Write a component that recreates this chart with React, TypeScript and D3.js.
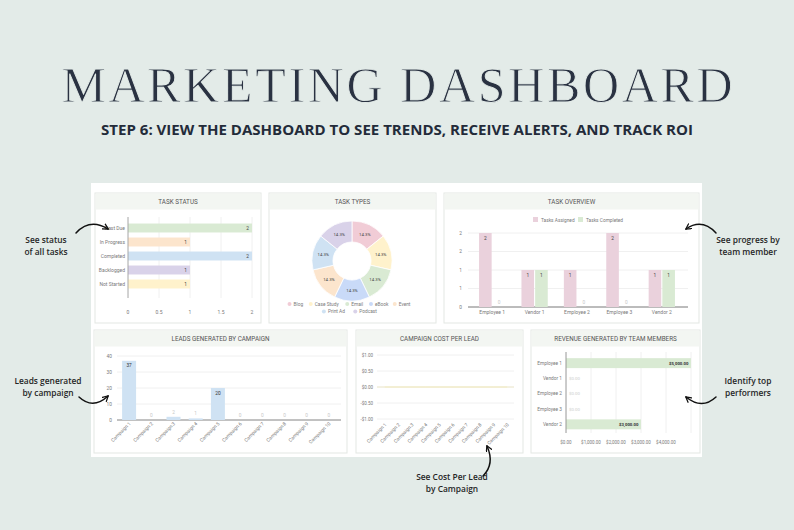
import React from "react";
import * as d3 from "d3";

const W = 794;
const H = 530;

// ---------- DATA ----------
const statusCategories = ["Past Due", "In Progress", "Completed", "Backlogged", "Not Started"];
const statusValues = [2, 1, 2, 1, 1];
const statusColors = ["#d9ead3", "#fce5cd", "#cfe2f3", "#d9d2e9", "#fff2cc"];
const statusTicks = [0, 0.5, 1, 1.5, 2];

const typeLabels = ["Blog", "Case Study", "Email", "eBook", "Event", "Print Ad", "Podcast"];
const typeValues = [1, 1, 1, 1, 1, 1, 1];
const typeColors = ["#f1ccd6", "#fff2cc", "#d9ead3", "#c9daf8", "#fce5cd", "#cfe2f3", "#d9d2e9"];

const members = ["Employee 1", "Vendor 1", "Employee 2", "Employee 3", "Vendor 2"];
const tasksAssigned = [2, 1, 1, 2, 1];
const tasksCompleted = [0, 1, 0, 0, 1];
const overviewTicks = [0, 0.5, 1, 1.5, 2];

const campaigns = [
  "Campaign 1", "Campaign 2", "Campaign 3", "Campaign 4", "Campaign 5",
  "Campaign 6", "Campaign 7", "Campaign 8", "Campaign 9", "Campaign 10",
];
const leads = [37, 0, 2, 1, 20, 0, 0, 0, 0, 0];
const leadTicks = [0, 10, 20, 30, 40];

const costPerLead = [0, 0, 0, 0, 0, 0, 0, 0, 0, 0];
const costTicks = [-1, -0.5, 0, 0.5, 1];

const revenue = [5000, 0, 0, 0, 3000];
const revenueTicks = [0, 1000, 2000, 3000, 4000, 5000];

// ---------- helpers ----------
const loc = d3.formatLocale({ decimal: ".", thousands: ",", grouping: [3], currency: ["$", ""], minus: "-" });
const fmtMoney = loc.format("$,.2f");
const fmtPct = d3.format(".1%");

const CHART_FONT = "Roboto, 'Noto Sans', sans-serif";
const ANN_FONT = "'Open Sans', 'Noto Sans', sans-serif";
const AXIS_TXT = "#7a7a7a";
const GRID = "#ececec";

function Panel({ x, y, w, h, title }: { x: number; y: number; w: number; h: number; title: string }) {
  return (
    <g>
      <rect x={x} y={y} width={w} height={h} fill="#ffffff" stroke="#e3e7e3" strokeWidth={1} />
      <rect x={x + 0.5} y={y + 0.5} width={w - 1} height={16} fill="#f3f6f2" />
      <text x={x + w / 2} y={y + 10.5} textAnchor="middle" fontSize={6.3} fill="#555" fontFamily={CHART_FONT}>
        {title}
      </text>
    </g>
  );
}

function TaskStatus() {
  const x = d3.scaleLinear().domain([0, 2]).range([128, 252]);
  const y = d3.scaleBand().domain(statusCategories).range([221, 291]).paddingInner(0.36).paddingOuter(0.18);
  return (
    <g fontFamily={CHART_FONT}>
      {statusTicks.map((t) => (
        <g key={t}>
          <line x1={x(t)} x2={x(t)} y1={217} y2={298} stroke={GRID} strokeWidth={0.8} />
          <text x={x(t)} y={314} textAnchor="middle" fontSize={5} fill={AXIS_TXT}>
            {t}
          </text>
        </g>
      ))}
      {statusCategories.map((c, i) => (
        <g key={c}>
          <rect x={x(0)} y={y(c)!} width={x(statusValues[i]) - x(0)} height={y.bandwidth()} fill={statusColors[i]} />
          <text x={x(statusValues[i]) - 3} y={y(c)! + y.bandwidth() / 2 + 1.8} textAnchor="end" fontSize={4.8} fill="#444">
            {statusValues[i]}
          </text>
          <text x={x(0) - 3} y={y(c)! + y.bandwidth() / 2 + 1.8} textAnchor="end" fontSize={5} fill={AXIS_TXT}>
            {c}
          </text>
        </g>
      ))}
      <line x1={x(0)} x2={x(0)} y1={217} y2={298} stroke="#9a9a9a" strokeWidth={0.8} />
    </g>
  );
}

function TaskTypes() {
  const cx = 352;
  const cy = 261;
  const pie = d3.pie<number>().sort(null).value((d) => d)(typeValues);
  const arc = d3.arc<d3.PieArcDatum<number>>().innerRadius(19).outerRadius(40);
  const total = d3.sum(typeValues);
  const rows = [typeLabels.slice(0, 5), typeLabels.slice(5)];
  const itemW = (s: string) => s.length * 2.55 + 11;
  return (
    <g fontFamily={CHART_FONT}>
      <g transform={`translate(${cx},${cy})`}>
        {pie.map((p, i) => (
          <g key={i}>
            <path d={arc(p)!} fill={typeColors[i]} stroke="#fff" strokeWidth={0.8} />
            <text
              x={arc.centroid(p)[0]}
              y={arc.centroid(p)[1] + 1.5}
              textAnchor="middle"
              fontSize={4.3}
              fill="#444"
            >
              {fmtPct(typeValues[i] / total)}
            </text>
          </g>
        ))}
      </g>
      {rows.map((row, ri) => {
        const widths = row.map(itemW);
        const tot = d3.sum(widths);
        let cur = cx - tot / 2;
        return row.map((lab) => {
          const idx = typeLabels.indexOf(lab);
          const x0 = cur;
          cur += itemW(lab);
          const yy = 304 + ri * 7.5;
          return (
            <g key={lab}>
              <circle cx={x0 + 2} cy={yy} r={2} fill={typeColors[idx]} />
              <text x={x0 + 6} y={yy + 1.7} fontSize={4.8} fill={AXIS_TXT}>
                {lab}
              </text>
            </g>
          );
        });
      })}
    </g>
  );
}

function TaskOverview() {
  const x = d3.scaleBand().domain(members).range([471, 683]).paddingInner(0.38).paddingOuter(0.19);
  const sub = d3.scaleBand().domain(["a", "c"]).range([0, x.bandwidth()]).paddingInner(0.08);
  const y = d3.scaleLinear().domain([0, 2]).range([307, 233]);
  return (
    <g fontFamily={CHART_FONT}>
      {overviewTicks.map((t) => (
        <g key={t}>
          <line x1={468} x2={688} y1={y(t)} y2={y(t)} stroke={t === 0 ? "#555" : GRID} strokeWidth={0.8} />
          <text x={462} y={y(t) + 1.7} textAnchor="end" fontSize={4.8} fill={AXIS_TXT}>
            {Math.round(t)}
          </text>
        </g>
      ))}
      {members.map((m, i) => {
        const gx = x(m)!;
        const items: [string, number, string][] = [
          ["a", tasksAssigned[i], "#ead1dc"],
          ["c", tasksCompleted[i], "#d9ead3"],
        ];
        return (
          <g key={m}>
            {items.map(([k, v, col]) => {
              const bx = gx + sub(k)!;
              const bw = sub.bandwidth();
              return (
                <g key={k}>
                  <rect x={bx} y={y(v)} width={bw} height={y(0) - y(v)} fill={col} />
                  <text
                    x={bx + bw / 2}
                    y={v > 0 ? y(v) + 7 : y(0) - 3}
                    textAnchor="middle"
                    fontSize={4.8}
                    fill={v > 0 ? "#444" : "#c8c8c8"}
                  >
                    {v}
                  </text>
                </g>
              );
            })}
            <text x={gx + x.bandwidth() / 2} y={314} textAnchor="middle" fontSize={5} fill={AXIS_TXT}>
              {m}
            </text>
          </g>
        );
      })}
      <rect x={533} y={217} width={5} height={5} fill="#ead1dc" />
      <text x={541} y={221.6} fontSize={4.8} fill={AXIS_TXT}>
        Tasks Assigned
      </text>
      <rect x={578} y={217} width={5} height={5} fill="#d9ead3" />
      <text x={586} y={221.6} fontSize={4.8} fill={AXIS_TXT}>
        Tasks Completed
      </text>
    </g>
  );
}

function Leads() {
  const x = d3.scaleBand().domain(campaigns).range([118, 340]).paddingInner(0.37).paddingOuter(0.185);
  const y = d3.scaleLinear().domain([0, 40]).range([420, 356]);
  return (
    <g fontFamily={CHART_FONT}>
      {leadTicks.map((t) => (
        <g key={t}>
          <line x1={117} x2={341} y1={y(t)} y2={y(t)} stroke={t === 0 ? "#666" : GRID} strokeWidth={0.8} />
          <text x={112} y={y(t) + 1.7} textAnchor="end" fontSize={4.8} fill={AXIS_TXT}>
            {t}
          </text>
        </g>
      ))}
      {campaigns.map((c, i) => {
        const bx = x(c)!;
        const bw = x.bandwidth();
        const v = leads[i];
        const big = y(0) - y(v) > 10;
        return (
          <g key={c}>
            <rect x={bx} y={y(v)} width={bw} height={y(0) - y(v)} fill="#cfe2f3" />
            <text
              x={bx + bw / 2}
              y={big ? y(v) + 6.5 : y(v) - 3}
              textAnchor="middle"
              fontSize={4.8}
              fill={big ? "#333" : "#c8c8c8"}
            >
              {v}
            </text>
            <text
              transform={`translate(${bx + bw / 2 + 2},${424}) rotate(-45)`}
              textAnchor="end"
              fontSize={4.8}
              fill={AXIS_TXT}
            >
              {c}
            </text>
          </g>
        );
      })}
    </g>
  );
}

function CostPerLead() {
  const x = d3.scaleBand().domain(campaigns).range([378, 514]);
  const y = d3.scaleLinear().domain([-1, 1]).range([419, 355]);
  const line = d3
    .line<number>()
    .x((_, i) => x(campaigns[i])! + x.bandwidth() / 2)
    .y((d) => y(d));
  return (
    <g fontFamily={CHART_FONT}>
      {costTicks.map((t) => (
        <g key={t}>
          <line x1={377} x2={514} y1={y(t)} y2={y(t)} stroke={GRID} strokeWidth={0.8} />
          <text x={373} y={y(t) + 1.7} textAnchor="end" fontSize={4.5} fill={AXIS_TXT}>
            {fmtMoney(t)}
          </text>
        </g>
      ))}
      <line x1={377} x2={514} y1={y(0)} y2={y(0)} stroke="#eee9c8" strokeWidth={0.9} />
      <path d={line(costPerLead)!} fill="none" stroke="#f3ecc4" strokeWidth={1} />
      {campaigns.map((c) => (
        <text
          key={c}
          transform={`translate(${x(c)! + x.bandwidth() / 2 + 2},${425}) rotate(-45)`}
          textAnchor="end"
          fontSize={4.8}
          fill={AXIS_TXT}
        >
          {c}
        </text>
      ))}
    </g>
  );
}

function Revenue() {
  const x = d3.scaleLinear().domain([0, 5000]).range([566, 691]);
  const y = d3.scaleBand().domain(members).range([355.5, 432]).paddingInner(0.35).paddingOuter(0.175);
  return (
    <g fontFamily={CHART_FONT}>
      {revenueTicks.map((t) => (
        <g key={t}>
          <line x1={x(t)} x2={x(t)} y1={352} y2={433} stroke={GRID} strokeWidth={0.8} />
          {t < 5000 && (
            <text x={x(t)} y={444} textAnchor="middle" fontSize={4.5} fill={AXIS_TXT}>
              {fmtMoney(t)}
            </text>
          )}
        </g>
      ))}
      {members.map((m, i) => {
        const v = revenue[i];
        const yy = y(m)!;
        const bh = y.bandwidth();
        return (
          <g key={m}>
            <rect x={x(0)} y={yy} width={x(v) - x(0)} height={bh} fill="#d9ead3" />
            <text
              x={v > 0 ? x(v) - 2.5 : x(0) + 3}
              y={yy + bh / 2 + 1.6}
              textAnchor={v > 0 ? "end" : "start"}
              fontSize={4.3}
              fill={v > 0 ? "#333" : "#cccccc"}
              fontWeight={v > 0 ? 700 : 400}
            >
              {fmtMoney(v)}
            </text>
            <text x={x(0) - 4} y={yy + bh / 2 + 1.7} textAnchor="end" fontSize={4.8} fill={AXIS_TXT}>
              {m}
            </text>
          </g>
        );
      })}
      <line x1={x(0)} x2={x(0)} y1={352} y2={433} stroke="#888" strokeWidth={0.8} />
    </g>
  );
}

function Annotation({ lines, x, y }: { lines: string[]; x: number; y: number }) {
  return (
    <g>
      {lines.map((l, i) => (
        <text
          key={i}
          x={x}
          y={y + i * 11.5}
          textAnchor="middle"
          fontSize={8.4}
          fontWeight={600}
          fill="#262626"
          fontFamily={ANN_FONT}
        >
          {l}
        </text>
      ))}
    </g>
  );
}

export default function App() {
  return (
    <div style={{ position: "absolute", left: 0, top: 0, width: W, height: H }}>
      <svg width={W} height={H} viewBox={`0 0 ${W} ${H}`} style={{ display: "block" }}>
        <defs>
          <marker
            id="ah"
            viewBox="0 0 10 10"
            refX={8}
            refY={5}
            markerWidth={7}
            markerHeight={7}
            markerUnits="userSpaceOnUse"
            orient="auto"
          >
            <path d="M1,1 L8.5,5 L1,9" fill="none" stroke="#111" strokeWidth={1.8} strokeLinecap="round" strokeLinejoin="round" />
          </marker>
        </defs>
        <rect x={0} y={0} width={W} height={H} fill="#e3ebe8" />

        <text
          x={397}
          y={102}
          textAnchor="middle"
          fontSize={50}
          fontFamily="'Liberation Serif', 'DejaVu Serif', serif"
          fill="#2a3242"
          stroke="#e3ebe8"
          strokeWidth={0.9}
          textLength={671}
          lengthAdjust="spacing"
        >
          MARKETING DASHBOARD
        </text>
        <text
          x={397}
          y={135}
          textAnchor="middle"
          fontSize={13.6}
          fontWeight={700}
          fontFamily={ANN_FONT}
          fill="#232b3a"
          textLength={592}
          lengthAdjust="spacingAndGlyphs"
        >
          STEP 6: VIEW THE DASHBOARD TO SEE TRENDS, RECEIVE ALERTS, AND TRACK ROI
        </text>

        <rect x={91} y={183} width={611} height={274} fill="#ffffff" />

        <Panel x={95} y={193} w={166} h={130} title="TASK STATUS" />
        <Panel x={269} y={193} w={167} h={130} title="TASK TYPES" />
        <Panel x={444} y={193} w={255} h={130} title="TASK OVERVIEW" />
        <Panel x={94} y={330} w={253} h={123} title="LEADS GENERATED BY CAMPAIGN" />
        <Panel x={356} y={330} w={167} h={123} title="CAMPAIGN COST PER LEAD" />
        <Panel x={531} y={330} w={169} h={123} title="REVENUE GENERATED BY TEAM MEMBERS" />

        <TaskStatus />
        <TaskTypes />
        <TaskOverview />
        <Leads />
        <CostPerLead />
        <Revenue />

        <Annotation lines={["See status", "of all tasks"]} x={46} y={243} />
        <Annotation lines={["Leads generated", "by campaign"]} x={48} y={384} />
        <Annotation lines={["See progress by", "team member"]} x={748} y={243} />
        <Annotation lines={["Identify top", "performers"]} x={748} y={384} />
        <Annotation lines={["See Cost Per Lead", "by Campaign"]} x={452} y={480} />

        <g fill="none" stroke="#111" strokeWidth={1.5} strokeLinecap="round">
          <path d="M76,233 Q90,218 108,229" markerEnd="url(#ah)" />
          <path d="M79,397 Q93,410 108,396" markerEnd="url(#ah)" />
          <path d="M716,233 Q702,218 686,229" markerEnd="url(#ah)" />
          <path d="M716,397 Q702,410 686,397" markerEnd="url(#ah)" />
          <path d="M483,476 Q495,464 487,446" markerEnd="url(#ah)" />
        </g>
      </svg>
    </div>
  );
}
